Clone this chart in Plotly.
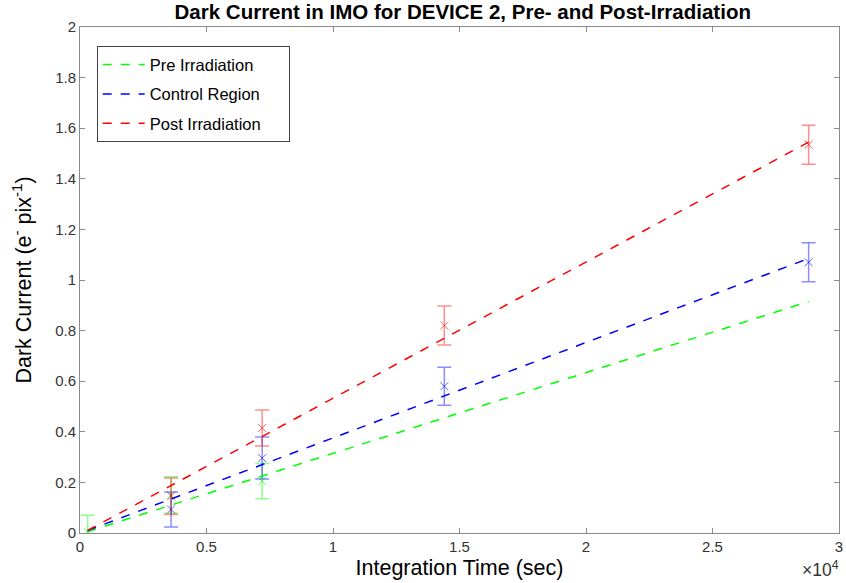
import plotly.graph_objects as go

# Data
pre_t = [300, 3600, 7200]
pre_v = [0.005, 0.15, 0.205]
pre_e = [0.065, 0.072, 0.07]

ctrl_t = [3600, 7200, 14400, 28800]
ctrl_v = [0.093, 0.296, 0.58, 1.07]
ctrl_e = [0.069, 0.083, 0.075, 0.077]

post_t = [3600, 7200, 14400, 28800]
post_v = [0.145, 0.415, 0.82, 1.535]
post_e = [0.072, 0.071, 0.077, 0.077]

fit_t = [300, 28800]
pre_fit = [0.005, 0.915]
ctrl_fit = [0.01, 1.085]
post_fit = [0.01, 1.545]

x_ticks = [0, 5000, 10000, 15000, 20000, 25000, 30000]
x_ticklabels = ["0", "0.5", "1", "1.5", "2", "2.5", "3"]
y_ticks = [0, 0.2, 0.4, 0.6, 0.8, 1.0, 1.2, 1.4, 1.6, 1.8, 2.0]
y_ticklabels = ["0", "0.2", "0.4", "0.6", "0.8", "1", "1.2", "1.4", "1.6", "1.8", "2"]

FONT = "Liberation Sans, Arial, Helvetica, sans-serif"
PAD = "\u00a0" * 5

series = [
    ("Pre Irradiation", (0, 255, 0), pre_t, pre_v, pre_e, pre_fit),
    ("Control Region", (0, 0, 255), ctrl_t, ctrl_v, ctrl_e, ctrl_fit),
    ("Post Irradiation", (255, 0, 0), post_t, post_v, post_e, post_fit),
]

fig = go.Figure()
for name, (r, g, b), t, v, e, fit in series:
    fig.add_trace(go.Scatter(
        x=t, y=v, mode="markers", showlegend=False,
        marker=dict(symbol="x-thin", size=8,
                    line=dict(width=1, color=f"rgba({r},{g},{b},0.6)")),
        error_y=dict(type="data", array=e, visible=True,
                     color=f"rgba({r},{g},{b},0.45)", thickness=1.5, width=7),
    ))
for name, (r, g, b), t, v, e, fit in series:
    fig.add_trace(go.Scatter(
        x=fit_t, y=fit, mode="lines", name=name + PAD, legendgroup=name,
        line=dict(color=f"rgb({r},{g},{b})", dash="dash", width=1.5),
    ))

axis_common = dict(
    showgrid=False, zeroline=False, showline=True, linecolor="#8a8a8a",
    linewidth=1, mirror="ticks", ticks="inside", ticklen=5,
    tickcolor="#8a8a8a", ticklabeloverflow="allow",
    tickfont=dict(family=FONT, size=15, color="#333333"),
)

fig.update_layout(
    width=846, height=583,
    margin=dict(l=80, r=3, t=27, b=50),
    paper_bgcolor="white", plot_bgcolor="white",
    title=dict(text="<b>Dark Current in IMO for DEVICE 2, Pre- and Post-Irradiation</b>",
               xref="container", x=0.547, xanchor="center",
               yref="container", y=0.979, yanchor="middle",
               font=dict(family=FONT, size=20.5, color="black")),
    xaxis=dict(range=[0, 30000], tickvals=x_ticks, ticktext=x_ticklabels,
               title=dict(text="Integration Time (sec)", standoff=5,
                          font=dict(family=FONT, size=21.5, color="black")),
               **axis_common),
    yaxis=dict(range=[0, 2], tickvals=y_ticks, ticktext=y_ticklabels,
               title=dict(text="Dark Current (e<sup>-</sup> pix<sup>-1</sup>)", standoff=17,
                          font=dict(family=FONT, size=21.5, color="black")),
               **axis_common),
    legend=dict(x=0.022, y=0.962, xanchor="left", yanchor="top",
                bgcolor="white", bordercolor="#444444", borderwidth=1,
                font=dict(family=FONT, size=16.5, color="black"),
                tracegroupgap=5, itemwidth=42),
    annotations=[dict(text="×10<sup>4</sup>", xref="paper", yref="paper",
                      x=1.003, y=-0.045, xanchor="right", yanchor="top",
                      showarrow=False,
                      font=dict(family=FONT, size=17.5, color="#333333"))],
)

fig.write_html("out.html")
